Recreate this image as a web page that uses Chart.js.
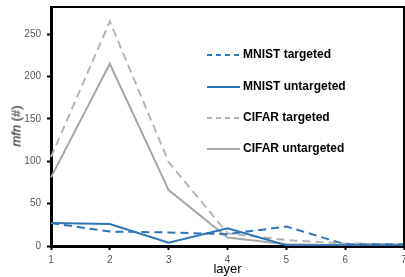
<!DOCTYPE html>
<html><head><meta charset="utf-8">
<script src="https://cdn.jsdelivr.net/npm/chart.js@4/dist/chart.umd.min.js"></script>
<style>
html,body{margin:0;padding:0;background:#fff;}
#wrap{position:relative;width:405px;height:277px;overflow:hidden;}
#c{position:absolute;left:0;top:0;}
#ytitle{position:absolute;left:16px;top:126px;transform:translate(-50%,-50%) rotate(-90deg);font:13px "Liberation Sans",Arial,sans-serif;color:#000;white-space:nowrap;}
.leg{position:absolute;left:207px;font:bold 12px "Liberation Sans",Arial,sans-serif;color:#000;white-space:nowrap;height:16px;line-height:16px;}
.leg svg{vertical-align:middle;margin-right:3px;}
</style></head>
<body><div id="wrap"><canvas id="c" width="405" height="277"></canvas>
<div id="ytitle"><i>mfn</i> (#)</div>
<div id="legend"></div>
</div>
<script>
const layers = ['1','2','3','4','5','6','7'];
const seriesNames = ['MNIST targeted','MNIST untargeted','CIFAR targeted','CIFAR untargeted'];
const mnistTargeted   = [27, 17, 16, 14, 23, 2, 2];
const mnistUntargeted = [27, 26, 4, 21, 1, 1, 1];
const cifarTargeted   = [105, 265, 99, 15, 7, 3, 2];
const cifarUntargeted = [81, 215, 66, 10, 2, 1, 1];
const yTicks = [0, 50, 100, 150, 200, 250];

const blue = '#2E75B6', gray = '#A6A6A6', grayD = '#B4B4B4';
const styles = [
  {color: blue, dash: [8,5], legDash: '5,4'},
  {color: blue, dash: [], legDash: ''},
  {color: grayD, dash: [8,5], legDash: '5,4'},
  {color: gray, dash: [], legDash: ''}
];
const values = [mnistTargeted, mnistUntargeted, cifarTargeted, cifarUntargeted];

const frame = {
  id: 'frame',
  afterDraw(chart) {
    const a = chart.chartArea, ctx = chart.ctx;
    ctx.save();
    ctx.strokeStyle = '#000';
    ctx.lineWidth = 2;
    ctx.beginPath();
    ctx.moveTo(a.left, a.top); ctx.lineTo(a.right, a.top); ctx.lineTo(a.right, a.bottom);
    ctx.stroke();
    ctx.restore();
  }
};

new Chart(document.getElementById('c'), {
  type: 'line',
  data: {
    labels: layers,
    datasets: values.map((v, i) => ({
      label: seriesNames[i], data: v,
      borderColor: styles[i].color, borderDash: styles[i].dash,
      borderWidth: 2, pointRadius: 0, tension: 0, fill: false
    }))
  },
  options: {
    responsive: false, animation: false,
    layout: {padding: {top: 7, right: 1, left: 0, bottom: 0}},
    plugins: {legend: {display: false}, tooltip: {enabled: false}},
    scales: {
      x: {
        offset: false,
        grid: {drawOnChartArea: false, drawTicks: true, tickLength: 4, tickColor: '#000', tickWidth: 2},
        border: {color: '#000', width: 3},
        ticks: {color: '#595959', font: {family: '"Liberation Sans", Arial', size: 10}, padding: 4, maxRotation: 0},
        title: {display: true, text: 'layer', color: '#000', font: {family: '"Liberation Sans", Arial', size: 13}, padding: {top: 0, bottom: 0}},
        afterFit(s) { s.height = 31; s.paddingLeft = 0; s.paddingRight = 0; }
      },
      y: {
        min: 0, max: 282,
        afterBuildTicks(s) { s.ticks = yTicks.map(v => ({value: v})); },
        grid: {drawOnChartArea: false, drawTicks: true, tickLength: 4, tickColor: '#000', tickWidth: 2},
        border: {color: '#000', width: 3},
        ticks: {color: '#595959', font: {family: '"Liberation Sans", Arial', size: 10}, padding: 6},
        afterFit(s) { s.width = 51; s.paddingTop = 0; s.paddingBottom = 0; }
      }
    }
  },
  plugins: [frame]
});

const legTops = [54, 86, 117, 148];
const legEl = document.getElementById('legend');
seriesNames.forEach((n, i) => {
  const d = document.createElement('div');
  d.className = 'leg';
  d.style.top = (legTops[i] - 8) + 'px';
  d.innerHTML = '<svg width="33" height="4"><line x1="0" y1="2" x2="33" y2="2" stroke="' + styles[i].color + '" stroke-width="2"' + (styles[i].legDash ? ' stroke-dasharray="' + styles[i].legDash + '"' : '') + '/></svg>' + n;
  legEl.appendChild(d);
});
</script>
</body></html>
